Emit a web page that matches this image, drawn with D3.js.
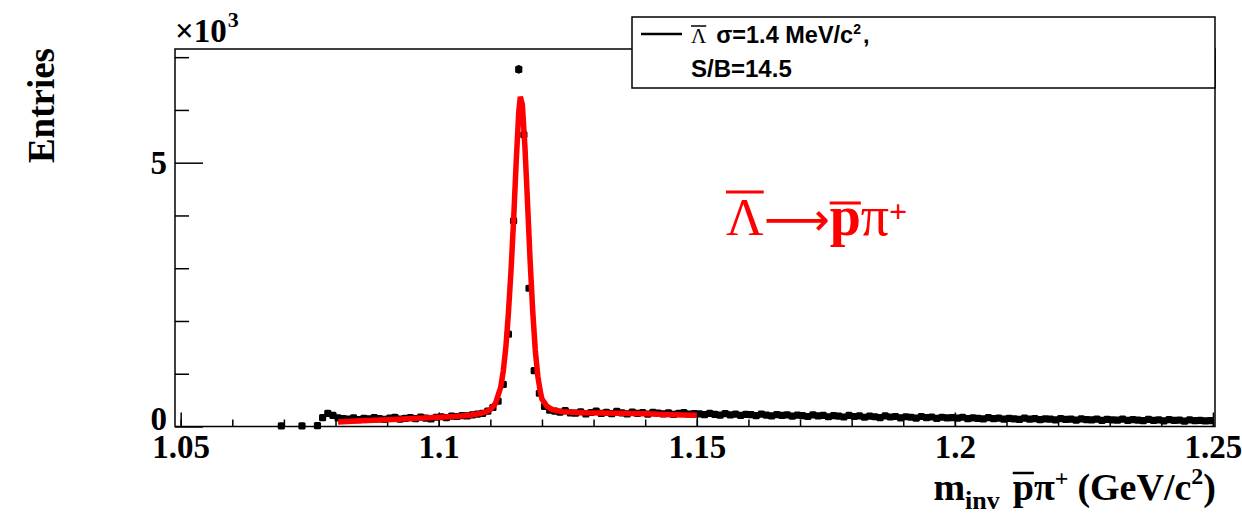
<!DOCTYPE html>
<html>
<head>
<meta charset="utf-8">
<script src="https://cdn.jsdelivr.net/npm/d3@7"></script>
<style>
  html, body { margin: 0; padding: 0; background: #fff; }
  svg { display: block; }
</style>
</head>
<body>
<svg id="chart" width="1242" height="519"></svg>
<script>
// Invariant-mass histogram (1 MeV bins from 1.05 to 1.25 GeV/c^2), entries per bin
const binLow = 1.05;
const binWidth = 0.001;
const entries = [
  null, null, null, null, null, null, null, null, null, null,
  null, null, null, null, null, null, null, null, null, 12,
  null, null, null, 10, null, null, 15, 170, 250, 210,
  165, 150, 140, 165, 130, 155, 145, 170, 150, 135,
  160, 175, 140, 155, 170, 150, 180, 160, 145, 175,
  185, 170, 195, 190, 205, 200, 220, 235, 250, 290,
  360, 480, 800, 1750, 3900, 6770, 5530, 2620, 1060, 630,
  380, 310, 290, 270, 300, 260, 255, 280, 240, 265,
  290, 250, 270, 245, 285, 260, 240, 275, 250, 265,
  235, 270, 255, 240, 260, 230, 250, 265, 235, 245,
  240, 225, 250, 230, 215, 245, 220, 235, 210, 230,
  225, 205, 235, 215, 200, 225, 210, 220, 195, 215,
  205, 190, 220, 200, 210, 185, 205, 195, 180, 210,
  190, 200, 175, 195, 185, 170, 200, 180, 190, 165,
  185, 175, 160, 190, 170, 180, 155, 175, 165, 170,
  160, 175, 150, 165, 155, 145, 170, 150, 160, 140,
  155, 145, 135, 160, 140, 150, 130, 145, 140, 125,
  150, 135, 140, 120, 145, 130, 125, 140, 115, 135,
  125, 120, 140, 115, 130, 120, 110, 135, 115, 125,
  105, 130, 115, 120, 100, 125, 110, 115, 105, 110
];

// Fitted signal + background curve (mass in GeV/c^2, entries)
const fitMass = [
  1.0805, 1.085, 1.090, 1.095, 1.100, 1.103, 1.106, 1.108, 1.109, 1.110,
  1.111, 1.112, 1.1125, 1.113, 1.1135, 1.114, 1.1145, 1.115, 1.1155, 1.1158,
  1.1162, 1.1167, 1.1172, 1.1177, 1.1182, 1.1187, 1.1192, 1.1197, 1.120, 1.121,
  1.122, 1.124, 1.128, 1.135, 1.140, 1.145, 1.150
];
const fitValue = [
  85, 110, 130, 150, 175, 190, 215, 245, 270, 320,
  440, 740, 1050, 1500, 2150, 2950, 3900, 5000, 5950, 6250,
  6100, 5300, 4250, 3150, 2200, 1450, 950, 650, 520, 380,
  320, 280, 260, 250, 240, 225, 215
];

// Axis ticks
const xMajorTicks = [1.05, 1.1, 1.15, 1.2, 1.25];
const xMinorTicks = d3.range(5, 26).map(k => k / 100 + 1);
const yMajorTicks = [0, 5000];
const yMinorTicks = [1000, 2000, 3000, 4000, 6000, 7000];

const svg = d3.select('#chart');
const SERIF = "'Liberation Serif', 'Times New Roman', serif";
const SANS = "'Liberation Sans', Arial, sans-serif";

const frame = { left: 175, right: 1215, top: 49, bottom: 426.5 };
const x = d3.scaleLinear().domain([1.0489, 1.2504]).range([frame.left, frame.right]);
const y = d3.scaleLinear().domain([0, 7155]).range([frame.bottom, frame.top]);

svg.append('rect').attr('width', 1242).attr('height', 519).attr('fill', '#fff');

// helper: lay out a run of styled text pieces, with optional bars over pieces
function richText(parent, px, py, segs, anchor, color) {
  const g = parent.append('g');
  let cx = 0;
  segs.forEach(s => {
    const x0 = cx + (s.dx || 0);
    const t = g.append('text')
      .attr('x', x0).attr('y', s.dy || 0)
      .attr('font-family', s.family || SERIF)
      .attr('font-size', s.size)
      .attr('font-weight', s.weight || 'normal')
      .attr('fill', color)
      .text(s.t);
    const w = t.node().getComputedTextLength();
    if (s.bar != null) {
      g.append('line')
        .attr('x1', x0).attr('x2', x0 + w)
        .attr('y1', -s.bar).attr('y2', -s.bar)
        .attr('stroke', color).attr('stroke-width', s.barW || 2);
    }
    cx = x0 + w;
  });
  const shift = anchor === 'end' ? -cx : anchor === 'middle' ? -cx / 2 : 0;
  g.attr('transform', `translate(${px + shift},${py})`);
  return g;
}

// ---- axes ----
const xAxisMajor = d3.axisBottom(x).tickValues(xMajorTicks).tickSize(-14).tickPadding(8)
  .tickFormat(d => d3.format('.3~f')(d));
const xAxisMinor = d3.axisBottom(x).tickValues(xMinorTicks).tickSize(-7).tickFormat('');
const yAxisMajor = d3.axisLeft(y).tickValues(yMajorTicks).tickSize(-28).tickPadding(8)
  .tickFormat(d => d / 1000);
const yAxisMinor = d3.axisLeft(y).tickValues(yMinorTicks).tickSize(-14).tickFormat('');

function styleAxis(g) {
  g.select('.domain').remove();
  g.selectAll('line').attr('stroke', '#000').attr('stroke-width', 1.5);
  g.selectAll('text').attr('font-family', SERIF).attr('font-weight', 'bold')
    .attr('font-size', 33).attr('fill', '#000');
}
svg.append('g').attr('transform', `translate(0,${frame.bottom})`).call(xAxisMinor).call(styleAxis);
svg.append('g').attr('transform', `translate(0,${frame.bottom})`).call(xAxisMajor).call(styleAxis);
svg.append('g').attr('transform', `translate(${frame.left},0)`).call(yAxisMinor).call(styleAxis);
const yAx = svg.append('g').attr('transform', `translate(${frame.left},0)`).call(yAxisMajor).call(styleAxis);
// the zero label sits a little above its tick, clear of the first mass label
yAx.selectAll('.tick text').filter(d => d === 0).attr('y', -8);

// frame
svg.append('rect')
  .attr('x', frame.left).attr('y', frame.top)
  .attr('width', frame.right - frame.left).attr('height', frame.bottom - frame.top)
  .attr('fill', 'none').attr('stroke', '#000').attr('stroke-width', 1.5);

// ---- histogram points with error bars ----
const bins = entries.map((v, i) => ({ m: binLow + binWidth * (i + 0.5), v }))
  .filter(d => d.v != null);
const halfW = (x(binLow + binWidth) - x(binLow)) / 2;
const pts = svg.append('g');
pts.selectAll('line.h').data(bins).join('line')
  .attr('x1', d => x(d.m) - halfW).attr('x2', d => x(d.m) + halfW)
  .attr('y1', d => y(d.v)).attr('y2', d => y(d.v))
  .attr('stroke', '#000').attr('stroke-width', 2);
pts.selectAll('line.v').data(bins).join('line')
  .attr('x1', d => x(d.m)).attr('x2', d => x(d.m))
  .attr('y1', d => y(d.v + Math.sqrt(d.v))).attr('y2', d => y(Math.max(0, d.v - Math.sqrt(d.v))))
  .attr('stroke', '#000').attr('stroke-width', 2);
pts.selectAll('rect').data(bins).join('rect')
  .attr('x', d => x(d.m) - 3.6).attr('y', d => y(d.v) - 3.6)
  .attr('width', 7.2).attr('height', 7.2).attr('rx', 1.5)
  .attr('fill', '#000');

// ---- fit curve ----
const fit = fitMass.map((m, i) => [m, fitValue[i]]);
svg.append('path')
  .datum(fit)
  .attr('d', d3.line().x(d => x(d[0])).y(d => y(d[1])))
  .attr('fill', 'none').attr('stroke', '#ff0000').attr('stroke-width', 5.5)
  .attr('stroke-linejoin', 'miter');

// ---- axis titles ----
svg.append('text')
  .attr('transform', 'translate(54,48) rotate(-90)')
  .attr('text-anchor', 'end')
  .attr('font-family', SERIF).attr('font-weight', 'bold').attr('font-size', 37)
  .text('Entries');

richText(svg, 175, 42, [
  { t: '×10', size: 33, weight: 'bold' },
  { t: '3', size: 22, weight: 'bold', dy: -15, dx: 1 }
], 'start', '#000');

richText(svg, 1216, 500, [
  { t: 'm', size: 38, weight: 'bold' },
  { t: 'inv', size: 26, weight: 'bold', dy: 9 },
  { t: 'p', size: 38, weight: 'bold', dx: 13, bar: 27, barW: 2.5 },
  { t: 'π', size: 38, weight: 'bold' },
  { t: '+', size: 24, weight: 'bold', dy: -14 },
  { t: '(GeV/c', size: 38, weight: 'bold', dx: 9 },
  { t: '2', size: 24, weight: 'bold', dy: -16 },
  { t: ')', size: 38, weight: 'bold' }
], 'end', '#000');

// ---- decay annotation: one text run, bars placed over the antiparticle symbols ----
const RED = '#ff0000';
const ann = svg.append('text')
  .attr('x', 726).attr('y', 235)
  .attr('fill', RED).attr('font-family', SERIF);
ann.append('tspan').attr('font-size', 52).text('Λ');
ann.append('tspan').attr('font-family', "'DejaVu Sans', sans-serif").attr('font-size', 46).text('⟶');
ann.append('tspan').attr('font-size', 56).attr('font-weight', 'bold').text('p');
ann.append('tspan').attr('font-size', 56).text('π');
ann.append('tspan').attr('font-size', 32).attr('font-weight', 'bold').attr('dy', -13).text('+');
[[0, 192], [2, 203]].forEach(([ci, by]) => {
  const r = ann.node().getExtentOfChar(ci);
  svg.append('line')
    .attr('x1', r.x).attr('x2', r.x + r.width)
    .attr('y1', by).attr('y2', by)
    .attr('stroke', RED).attr('stroke-width', 3);
});

// ---- legend ----
const leg = svg.append('g');
leg.append('rect').attr('x', 632).attr('y', 17).attr('width', 583).attr('height', 71)
  .attr('fill', '#fff').attr('stroke', '#000').attr('stroke-width', 1.5);
leg.append('line').attr('x1', 641).attr('x2', 682).attr('y1', 34).attr('y2', 34)
  .attr('stroke', '#000').attr('stroke-width', 2.5);
richText(leg, 691, 43, [
  { t: 'Λ', size: 21, bar: 17, barW: 1.5 },
  { t: 'σ=1.4 MeV/c', size: 23.5, weight: 'bold', family: SANS, dx: 10 },
  { t: '2', size: 14, weight: 'bold', family: SANS, dy: -9 },
  { t: ',', size: 23.5, weight: 'bold', family: SANS, dx: 2 }
], 'start', '#000');
richText(leg, 691, 77, [
  { t: 'S/B=14.5', size: 24, weight: 'bold', family: SANS }
], 'start', '#000');
</script>
</body>
</html>
